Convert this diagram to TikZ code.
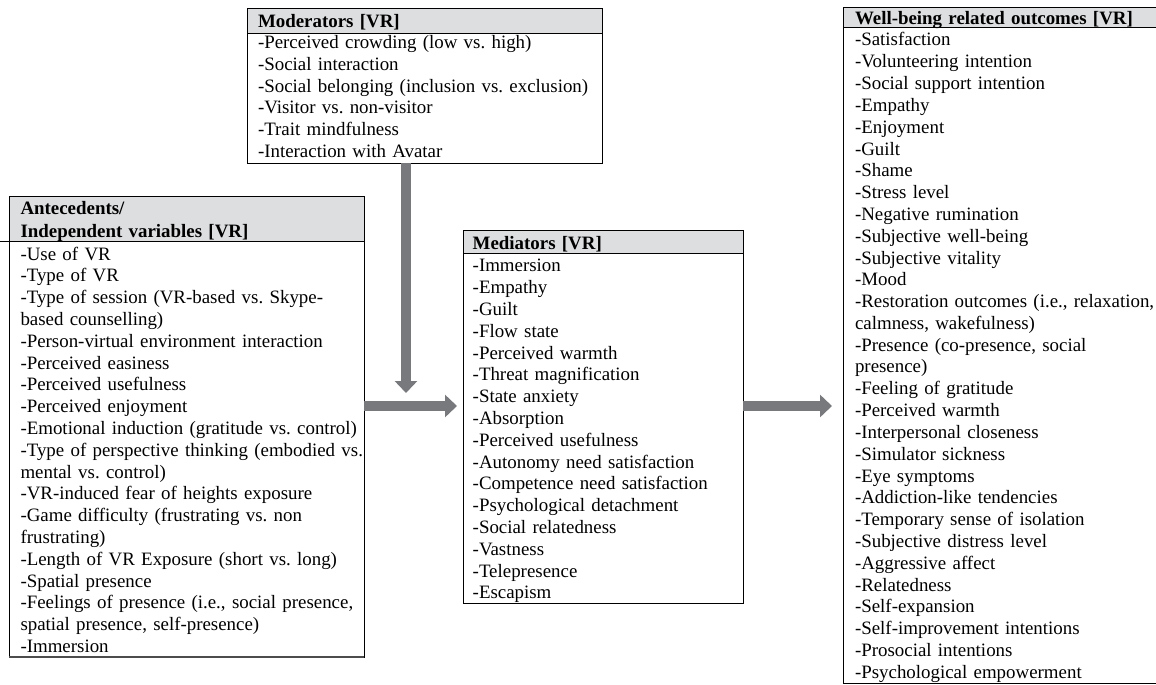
\documentclass[tikz,border=0pt]{standalone}
\usepackage{fontspec}
\setmainfont{Liberation Serif}
\frenchspacing
\usetikzlibrary{arrows.meta}
\definecolor{hdrgray}{RGB}{221,222,224}
\definecolor{arrgray}{RGB}{120,121,125}
\begin{document}
\begin{tikzpicture}[x=1pt,y=-1pt,
  frame/.style={draw=black, line width=0.9pt, inner sep=0pt, outer sep=0pt, anchor=north west},
  txt/.style={inner sep=0pt, outer sep=0pt, anchor=base west, text width=345pt, align=left, font=\frenchspacing\fontsize{18.9}{21.8}\selectfont},
  hdrtxt/.style={txt, font=\frenchspacing\fontsize{18.9}{22.4}\selectfont\bfseries},
  sep/.style={draw=black, line width=0.9pt},
  blockarrow/.style={draw=arrgray, line width=10pt, -{Triangle[width=22pt,length=12pt]}}]

\useasboundingbox (0,0) rectangle (1156,685);

% ---------- Moderators ----------
\fill[hdrgray] (247,8) rectangle (602,33);
\node[frame, minimum width=355pt, minimum height=155pt] (mod) at (247,8) {};
\draw[sep] (247,33) -- (602,33);
\node[hdrtxt] (modh) at (258,27.3) {Moderators [VR]};
\node[txt] (modt) at (258,48.5) {-Perceived crowding (low vs. high)\\
-Social interaction\\
-Social belonging (inclusion vs. exclusion)\\
-Visitor vs. non-visitor\\
-Trait mindfulness\\
-Interaction with Avatar};

% ---------- Antecedents ----------
\fill[hdrgray] (9,196) rectangle (364,241);
\node[frame, minimum width=355pt, minimum height=461pt] (ant) at (9,196) {};
\draw[sep] (0,241) -- (364,241);
\draw[draw=black!70, line width=2.2pt] (ant.south west) -- (ant.south east);
\node[hdrtxt] (anth) at (20.5,214.8) {Antecedents/\\Independent variables [VR]};
\node[txt] (antt) at (20.5,260) {-Use of VR\\
-Type of VR\\
-Type of session (VR-based vs. Skype-\\
based counselling)\\
-Person-virtual environment interaction\\
-Perceived easiness\\
-Perceived usefulness\\
-Perceived enjoyment\\
-Emotional induction (gratitude vs. control)\\
-Type of perspective thinking (embodied vs.\\
mental vs. control)\\
-VR-induced fear of heights exposure\\
-Game difficulty (frustrating vs. non\\
frustrating)\\
-Length of VR Exposure (short vs. long)\\
-Spatial presence\\
-Feelings of presence (i.e., social presence,\\
spatial presence, self-presence)\\
-Immersion};

% ---------- Mediators ----------
\fill[hdrgray] (463,230.3) rectangle (743,253.3);
\node[frame, minimum width=280pt, minimum height=372.7pt] (med) at (463,230.3) {};
\draw[sep] (463,253.3) -- (743,253.3);
\node[hdrtxt] (medh) at (472.7,249.2) {Mediators [VR]};
\node[txt] (medt) at (472.7,271.8) {-Immersion\\
-Empathy\\
-Guilt\\
-Flow state\\
-Perceived warmth\\
-Threat magnification\\
-State anxiety\\
-Absorption\\
-Perceived usefulness\\
-Autonomy need satisfaction\\
-Competence need satisfaction\\
-Psychological detachment\\
-Social relatedness\\
-Vastness\\
-Telepresence\\
-Escapism};

% ---------- Outcomes ----------
\fill[hdrgray] (843,7) rectangle (1163,27.5);
\node[frame, minimum width=320pt, minimum height=676pt] (out) at (843,7) {};
\draw[sep] (843,27.5) -- (1163,27.5);
\node[hdrtxt] (outh) at (855,24.6) {Well-being related outcomes [VR]};
\node[txt] (outt) at (855,46) {-Satisfaction\\
-Volunteering intention\\
-Social support intention\\
-Empathy\\
-Enjoyment\\
-Guilt\\
-Shame\\
-Stress level\\
-Negative rumination\\
-Subjective well-being\\
-Subjective vitality\\
-Mood\\
-Restoration outcomes (i.e., relaxation,\\
calmness, wakefulness)\\
-Presence (co-presence, social\\
presence)\\
-Feeling of gratitude\\
-Perceived warmth\\
-Interpersonal closeness\\
-Simulator sickness\\
-Eye symptoms\\
-Addiction-like tendencies\\
-Temporary sense of isolation\\
-Subjective distress level\\
-Aggressive affect\\
-Relatedness\\
-Self-expansion\\
-Self-improvement intentions\\
-Prosocial intentions\\
-Psychological empowerment};

% ---------- Arrows ----------
\coordinate (vtip) at (406,393);
\coordinate (arow) at (0,406);
\draw[blockarrow] (mod.south -| vtip) -- (vtip);
\draw[blockarrow, shorten >=6pt] (ant.east |- arow) -- (med.west |- arow);
\draw[blockarrow, shorten >=11pt] (med.east |- arow) -- (out.west |- arow);
\end{tikzpicture}
\end{document}
